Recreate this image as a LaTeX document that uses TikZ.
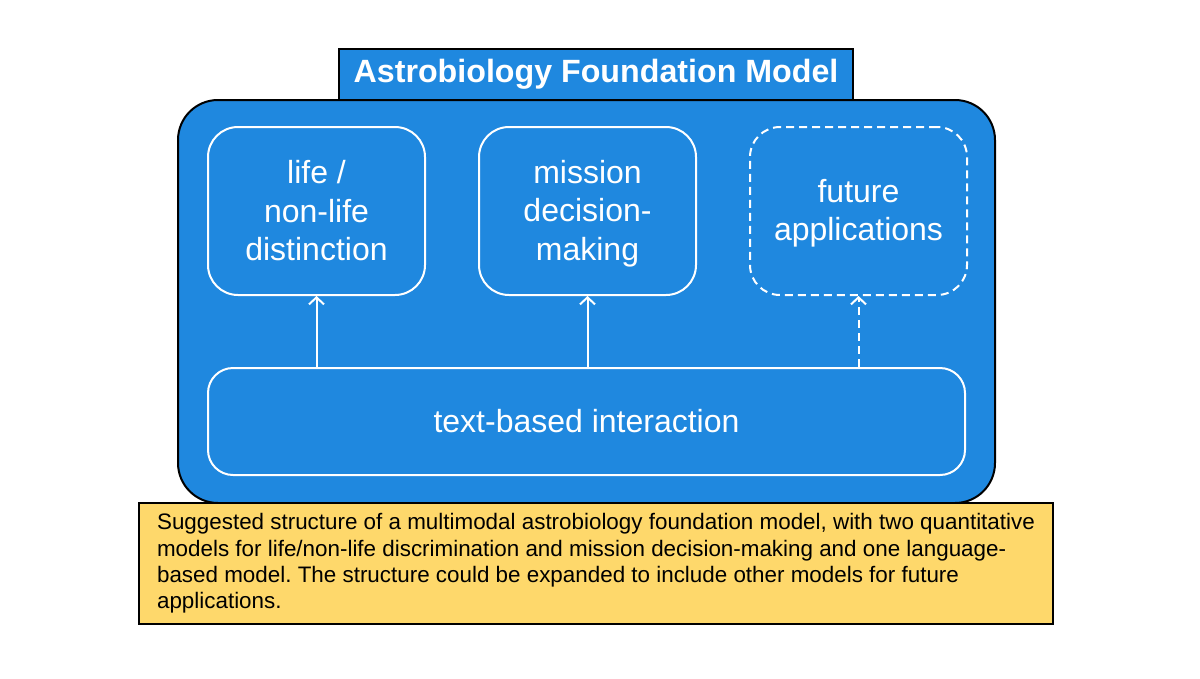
\documentclass[tikz,border=0pt]{standalone}
\usepackage{fontspec}
\setmainfont{Liberation Sans}
\usetikzlibrary{positioning, arrows.meta}
\definecolor{modelblue}{HTML}{1F88DF}
\definecolor{noteyellow}{HTML}{FED86B}
\frenchspacing

\begin{document}
\begin{tikzpicture}[
    x=1pt, y=-1pt,
    node distance=271pt,
    on grid,
    every node/.style={font=\fontsize{32}{38.5}\selectfont, text=white},
    task/.style={draw=white, line width=2pt, rounded corners=30pt, minimum width=217pt, minimum height=168pt, align=center},
    link/.style={draw=white, line width=2pt, -{Straight Barb[length=7pt, width=15pt]}},
    future/.style={dash pattern=on 8pt off 5pt}
]
   \useasboundingbox (0,0) rectangle (1200,678);

   % Model frame
   \node[draw=black, fill=modelblue, line width=2pt, rounded corners=40pt, minimum width=817pt, minimum height=403pt] (model) at (586.5,301.5) {};
   \node[draw=black, fill=modelblue, line width=1.6pt, minimum width=514pt, minimum height=51pt, font=\fontsize{32.2}{36}\selectfont\bfseries] (head) at (596,74.5) {Astrobiology Foundation Model};

   % Tasks
   \node[task] (life) at (316.5,211) {life /\\non-life\\distinction};
   \node[task] (mission) [right=of life] {\raisebox{-3pt}[\height][\depth]{\begin{tabular}{@{}c@{}}mission\\decision-\\making\end{tabular}}};
   \node[task, future] (apps) [right=of mission] {\raisebox{-3pt}[\height][\depth]{\begin{tabular}{@{}c@{}}future\\applications\end{tabular}}};
   \node[task, rounded corners=25pt, minimum width=757pt, minimum height=107pt] (chat) at (586.5,421.5) {text-based interaction};

   % Links
   \draw[link] (life.south |- chat.north) -- (life.south);
   \draw[link] (mission.south |- chat.north) -- (mission.south);
   \draw[link, future] (apps.south |- chat.north) -- (apps.south);

   % Caption
   \node[draw=black, fill=noteyellow, line width=1.6pt, minimum width=914pt, minimum height=121pt, align=left, text=black, font=\fontsize{22.4}{26.3}\selectfont] (note) at (596,563.5) {Suggested structure of a multimodal astrobiology foundation model, with two quantitative\\models for life/non-life discrimination and mission decision-making and one language-\\based model. The structure could be expanded to include other models for future\\applications.};
\end{tikzpicture}
\end{document}
